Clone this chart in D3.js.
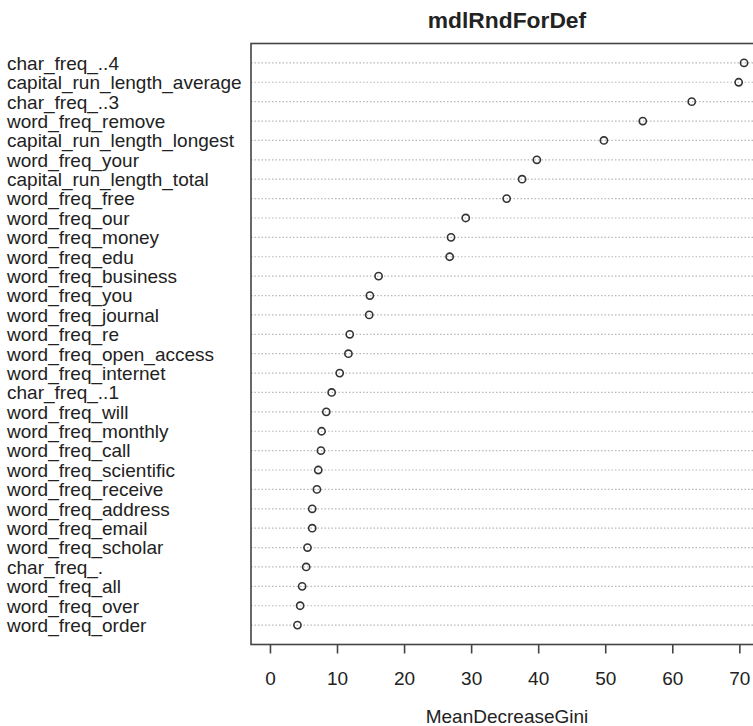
<!DOCTYPE html>
<html><head><meta charset="utf-8">
<script src="https://cdn.jsdelivr.net/npm/d3@7"></script>
<style>body{margin:0;background:#fff}svg{display:block}text{font-family:"Liberation Sans",Arial,sans-serif;fill:#222}</style>
</head><body><svg id="c" width="753" height="726"></svg>
<script>
const features = ["char_freq_..4","capital_run_length_average","char_freq_..3","word_freq_remove","capital_run_length_longest","word_freq_your","capital_run_length_total","word_freq_free","word_freq_our","word_freq_money","word_freq_edu","word_freq_business","word_freq_you","word_freq_journal","word_freq_re","word_freq_open_access","word_freq_internet","char_freq_..1","word_freq_will","word_freq_monthly","word_freq_call","word_freq_scientific","word_freq_receive","word_freq_address","word_freq_email","word_freq_scholar","char_freq_.","word_freq_all","word_freq_over","word_freq_order"];
const meanDecreaseGini = [70.7,69.9,62.9,55.6,49.8,39.8,37.6,35.3,29.2,27.0,26.8,16.2,14.9,14.8,11.9,11.7,10.4,9.2,8.4,7.7,7.6,7.2,7.0,6.3,6.3,5.6,5.4,4.8,4.5,4.1];
const xTicks = [0,10,20,30,40,50,60,70];
const chartTitle = "mdlRndForDef";
const xTitle = "MeanDecreaseGini";

const svg = d3.select("#c");
const maxV = d3.max(meanDecreaseGini);
const pad = maxV*0.04;
const x = d3.scaleLinear().domain([-pad, maxV+pad]).range([251, 763]);
const y = d3.scaleLinear().domain([0, features.length+1]).range([43.5, 644.5]);

const g = svg.append("g");
g.selectAll("line.grid").data(features).join("line")
  .attr("x1", x.range()[0]).attr("x2", x.range()[1])
  .attr("y1", (d,i)=>y(i+1)).attr("y2", (d,i)=>y(i+1))
  .attr("stroke", "#b8b8b8").attr("stroke-width", 1.2).attr("stroke-dasharray", "1.5,2");
g.selectAll("circle").data(meanDecreaseGini).join("circle")
  .attr("cx", d=>x(d)).attr("cy", (d,i)=>y(i+1)).attr("r", 3.6)
  .attr("fill", "none").attr("stroke", "#333").attr("stroke-width", 1.6);
svg.append("rect").attr("x", x.range()[0]).attr("y", y.range()[0])
  .attr("width", x.range()[1]-x.range()[0]).attr("height", y.range()[1]-y.range()[0])
  .attr("fill", "none").attr("stroke", "#444").attr("stroke-width", 1.6);
svg.selectAll("text.lab").data(features).join("text").attr("class","lab")
  .attr("x", 7).attr("y", (d,i)=>y(i+1)).attr("dy", "0.36em")
  .style("font-size", "19px").text(d=>d);
const axis = d3.axisBottom(x).tickValues(xTicks).tickSize(9).tickPadding(18).tickFormat(d3.format("d"));
const ax = svg.append("g").attr("transform", `translate(0,${y.range()[1]})`).call(axis);
ax.select(".domain").remove();
ax.selectAll("line").attr("stroke", "#444").attr("stroke-width", 1.6);
ax.selectAll("text").style("font-size", "19px").style("font-family", '"Liberation Sans",Arial,sans-serif').attr("fill", "#222");
svg.append("text").attr("x", (x.range()[0]+x.range()[1])/2).attr("y", 28)
  .attr("text-anchor", "middle").style("font-size", "22.8px").style("font-weight", "bold").text(chartTitle);
svg.append("text").attr("x", (x.range()[0]+x.range()[1])/2).attr("y", 723)
  .attr("text-anchor", "middle").style("font-size", "19px").text(xTitle);
</script></body></html>
